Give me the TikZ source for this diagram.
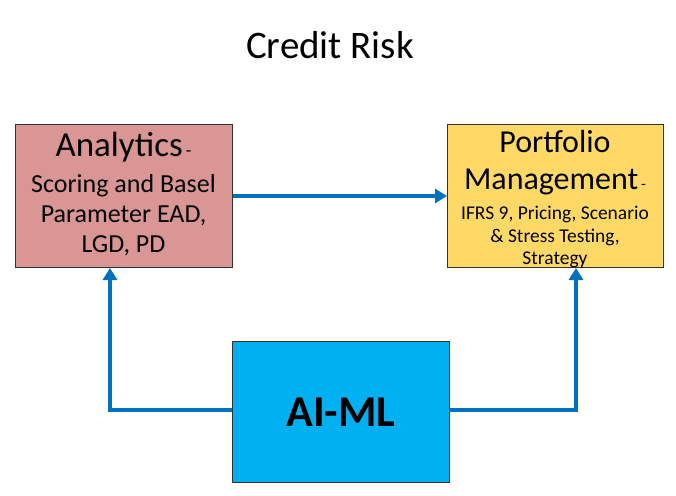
\documentclass[tikz,border=0pt]{standalone}
\usepackage{fontspec}
\setmainfont{Carlito}
\usetikzlibrary{arrows.meta}
\definecolor{ared}{HTML}{DA9694}
\definecolor{pyel}{HTML}{FFD966}
\definecolor{aiblue}{HTML}{00B0F0}
\definecolor{arr}{HTML}{0070C0}
\newcommand{\fs}[2]{\fontsize{#1}{#2}\selectfont}
\begin{document}
\begin{tikzpicture}[x=1pt,y=-1pt,
 box/.style={draw=black!80,line width=1pt,anchor=north west,inner sep=0pt,align=center},
 ln/.style={inner sep=0pt,anchor=base},
 conn/.style={draw=arr,line width=3.5pt,-{Triangle[length=12pt,width=14pt]}}]
\useasboundingbox (0,0) rectangle (676,495);
\node at (330,45) {\fs{39}{44}Credit Risk};
\node[box,fill=ared,minimum width=217,minimum height=143] (a) at (15,124) {};
\node[ln] (a1) at (123.5,156) {{\fs{35}{40}Analytics}{\fs{18}{20}\,-}};
\node[ln] (a2) at (123.5,192) {\fs{26}{30}Scoring and Basel};
\node[ln] (a3) at (123.5,222) {\fs{26}{30}Parameter EAD,};
\node[ln] (a4) at (123.5,252) {\fs{26}{30}LGD, PD};
\node[box,fill=pyel,minimum width=216,minimum height=143] (p) at (447,124) {};
\node[ln] (p1) at (555,152) {\fs{32}{36}Portfolio};
\node[ln] (p2) at (555,189) {{\fs{32}{36}Management}{\fs{16}{18}\,-}};
\node[ln] (p3) at (555,219) {\fs{19.5}{22}IFRS 9, Pricing, Scenario};
\node[ln] (p4) at (555,242) {\fs{19.5}{22}\& Stress Testing,};
\node[ln] (p5) at (555,264) {\fs{19.5}{22}Strategy};
\node[box,fill=aiblue,minimum width=217,minimum height=141] (m) at (232,341) {};
\node at (m.center) {\fs{44}{50}\bfseries AI-ML};
\coordinate (l) at (110,410);
\coordinate (r) at (576,410);
\draw[conn] (a.east|-0,196) -- (p.west|-0,196);
\draw[conn] (m.west|-l) -- (l) -- (l|-a.south);
\draw[conn] (m.east|-r) -- (r) -- (r|-p.south);
\end{tikzpicture}
\end{document}
